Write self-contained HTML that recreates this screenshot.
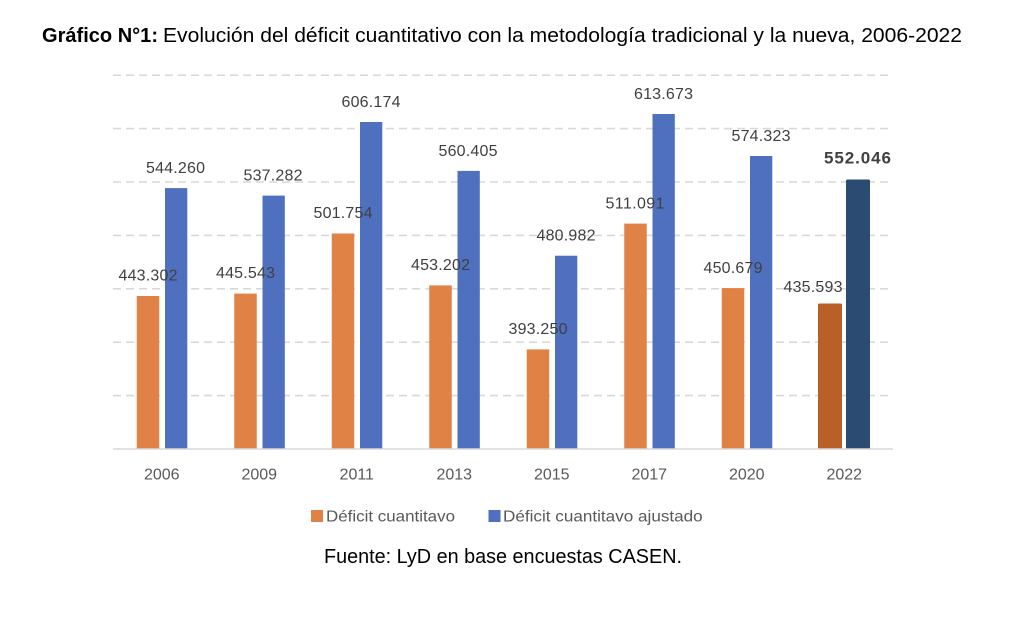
<!DOCTYPE html>
<html>
<head>
<meta charset="utf-8">
<style>
html,body{margin:0;padding:0;background:#fff;}
svg{display:block;}
text{font-family:"Liberation Sans",Arial,sans-serif;}
</style>
</head>
<body>
<svg width="1022" height="630" viewBox="0 0 1022 630" xmlns="http://www.w3.org/2000/svg">
<rect width="1022" height="630" fill="#fff"/>
<!-- Title -->
<text x="42" y="42" font-size="20" font-weight="bold" fill="#000" textLength="116" lengthAdjust="spacingAndGlyphs">Gráfico N°1:</text>
<text x="163" y="42" font-size="20" fill="#000" textLength="799" lengthAdjust="spacingAndGlyphs">Evolución del déficit cuantitativo con la metodología tradicional y la nueva, 2006-2022</text>

<!-- Gridlines -->
<g stroke="#d9d9d9" stroke-width="1.6" stroke-dasharray="8 5">
<line x1="113" y1="75.2" x2="893" y2="75.2"/>
<line x1="113" y1="128.6" x2="893" y2="128.6"/>
<line x1="113" y1="182" x2="893" y2="182"/>
<line x1="113" y1="235.4" x2="893" y2="235.4"/>
<line x1="113" y1="288.8" x2="893" y2="288.8"/>
<line x1="113" y1="342.2" x2="893" y2="342.2"/>
<line x1="113" y1="395.6" x2="893" y2="395.6"/>
</g>

<!-- Bars -->
<g>
<rect x="136.75" y="296" width="22.5" height="153" fill="#E08245"/>
<rect x="165" y="188.1" width="22.3" height="260.9" fill="#4E70BF"/>
<rect x="234.25" y="293.6" width="22.5" height="155.4" fill="#E08245"/>
<rect x="262.5" y="195.6" width="22.3" height="253.4" fill="#4E70BF"/>
<rect x="331.75" y="233.5" width="22.5" height="215.5" fill="#E08245"/>
<rect x="360" y="122" width="22.3" height="327" fill="#4E70BF"/>
<rect x="429.25" y="285.4" width="22.5" height="163.6" fill="#E08245"/>
<rect x="457.5" y="170.9" width="22.3" height="278.1" fill="#4E70BF"/>
<rect x="526.75" y="349.4" width="22.5" height="99.6" fill="#E08245"/>
<rect x="555" y="255.7" width="22.3" height="193.3" fill="#4E70BF"/>
<rect x="624.25" y="223.6" width="22.5" height="225.4" fill="#E08245"/>
<rect x="652.5" y="114" width="22.3" height="335" fill="#4E70BF"/>
<rect x="721.75" y="288.1" width="22.5" height="160.9" fill="#E08245"/>
<rect x="750" y="156" width="22.3" height="293" fill="#4E70BF"/>
<rect x="818" y="303.5" width="24" height="145.5" rx="1.5" fill="#B86028"/>
<rect x="846" y="179.5" width="24" height="269.5" rx="1.5" fill="#2C4B72"/>
</g>

<!-- Baseline -->
<line x1="113" y1="449" x2="893" y2="449" stroke="#d9d9d9" stroke-width="1.6"/>

<!-- Data labels -->
<g font-size="16" fill="#404040" text-anchor="middle">
<text x="148" y="280.5" textLength="59" lengthAdjust="spacing">443.302</text>
<text x="175.5" y="173" textLength="59" lengthAdjust="spacing">544.260</text>
<text x="245.5" y="278" textLength="59" lengthAdjust="spacing">445.543</text>
<text x="273" y="180.5" textLength="59" lengthAdjust="spacing">537.282</text>
<text x="343" y="218" textLength="59" lengthAdjust="spacing">501.754</text>
<text x="371" y="107" textLength="59" lengthAdjust="spacing">606.174</text>
<text x="440.5" y="270" textLength="59" lengthAdjust="spacing">453.202</text>
<text x="468" y="156" textLength="59" lengthAdjust="spacing">560.405</text>
<text x="538" y="334" textLength="59" lengthAdjust="spacing">393.250</text>
<text x="566" y="240.7" textLength="59" lengthAdjust="spacing">480.982</text>
<text x="635" y="208.3" textLength="59" lengthAdjust="spacing">511.091</text>
<text x="663.5" y="99" textLength="59" lengthAdjust="spacing">613.673</text>
<text x="733" y="272.8" textLength="59" lengthAdjust="spacing">450.679</text>
<text x="761" y="141" textLength="59" lengthAdjust="spacing">574.323</text>
<text x="813" y="292" textLength="59" lengthAdjust="spacing">435.593</text>
<text x="857.5" y="163.5" font-weight="bold" font-size="17" textLength="67" lengthAdjust="spacing">552.046</text>
</g>

<!-- Category labels -->
<g font-size="16" fill="#595959" text-anchor="middle">
<text x="161.75" y="479.3">2006</text>
<text x="259.25" y="479.3">2009</text>
<text x="356.75" y="479.3">2011</text>
<text x="454.25" y="479.3">2013</text>
<text x="551.75" y="479.3">2015</text>
<text x="649.25" y="479.3">2017</text>
<text x="746.75" y="479.3">2020</text>
<text x="844.25" y="479.3">2022</text>
</g>

<!-- Legend -->
<rect x="311" y="510" width="12" height="12" fill="#E08245"/>
<text x="326" y="521.5" font-size="16" fill="#595959" textLength="129" lengthAdjust="spacingAndGlyphs">Déficit cuantitavo</text>
<rect x="488.5" y="510" width="12" height="12" fill="#4E70BF"/>
<text x="503" y="521.5" font-size="16" fill="#595959" textLength="199.7" lengthAdjust="spacingAndGlyphs">Déficit cuantitavo ajustado</text>

<!-- Footer -->
<text x="324" y="563" font-size="20" fill="#000" textLength="358" lengthAdjust="spacingAndGlyphs">Fuente: LyD en base encuestas CASEN.</text>
</svg>
</body>
</html>
